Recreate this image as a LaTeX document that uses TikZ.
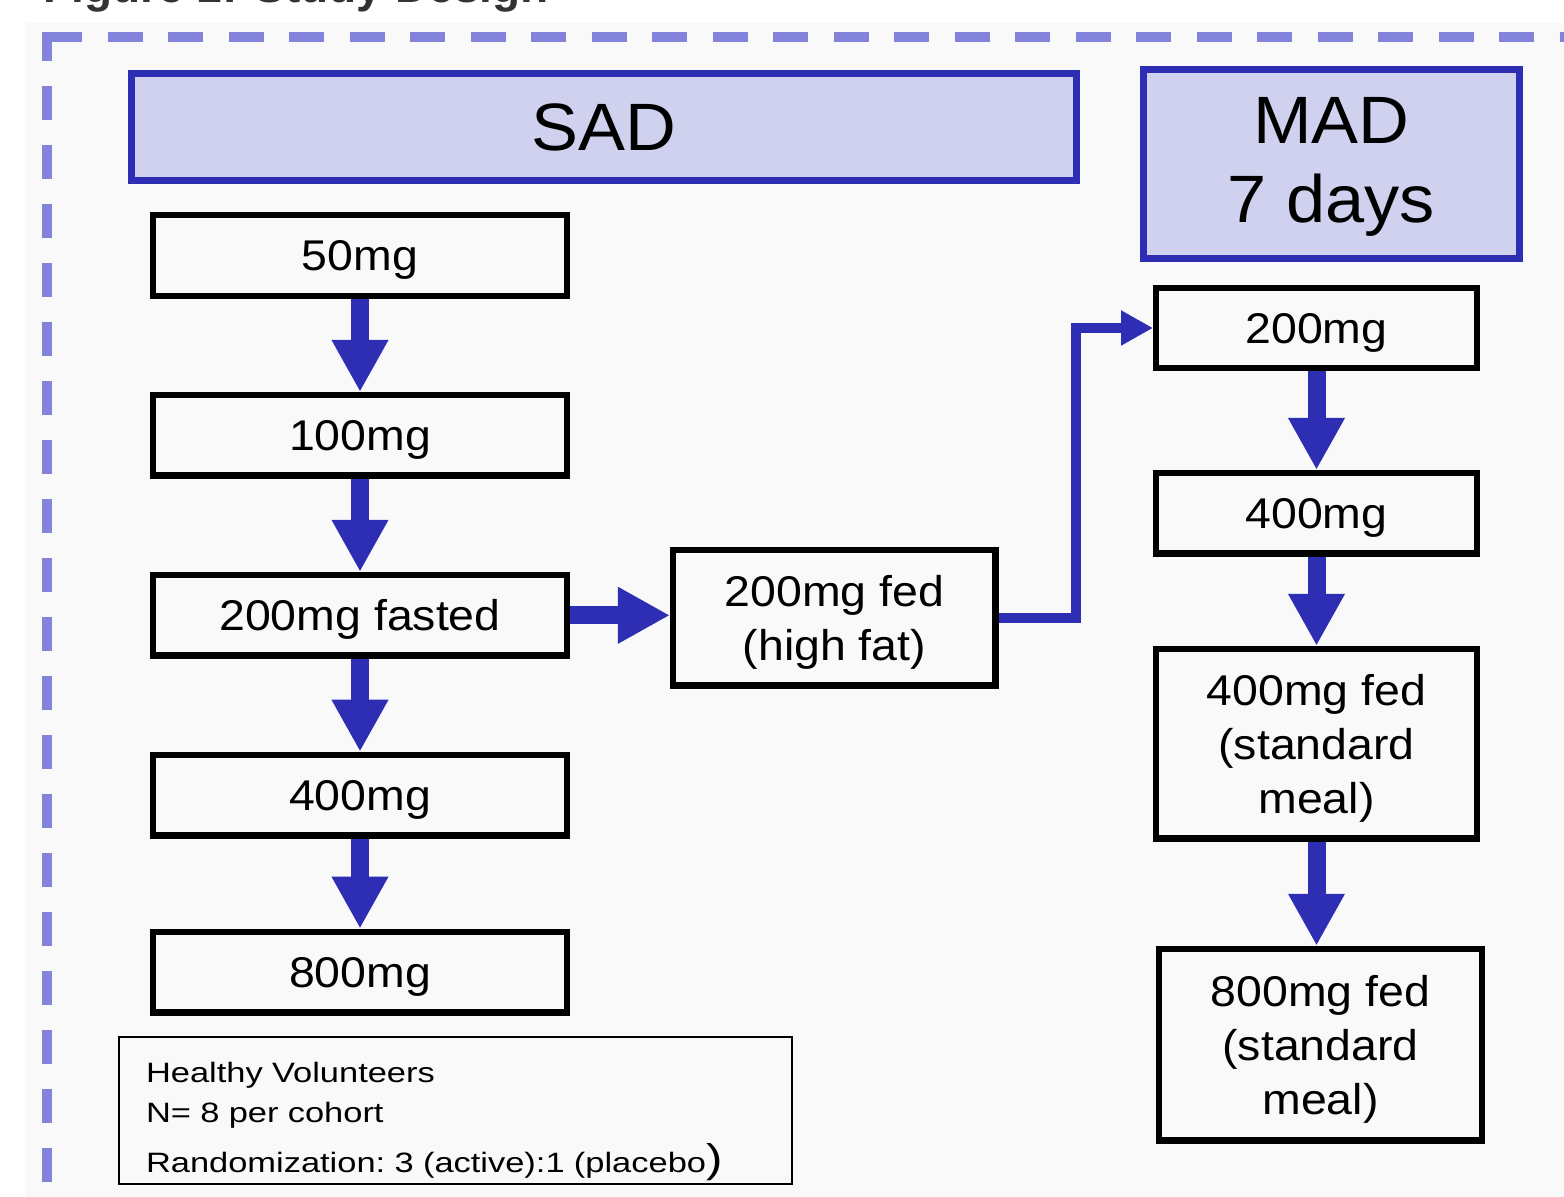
\documentclass[tikz,border=0pt]{standalone}
\usepackage{fontspec}
\setmainfont{Liberation Sans}
\newfontfamily\headfont[FakeStretch=1.05]{Liberation Sans}
\newfontfamily\dosefont[FakeStretch=1.08]{Liberation Sans}
\newfontfamily\notefont[FakeStretch=1.23]{Liberation Sans}
\usepackage{xcolor}
\usetikzlibrary{positioning, arrows.meta}
\definecolor{studyblue}{HTML}{2E2EB4}
\definecolor{headfill}{HTML}{D0D1EF}
\definecolor{framedash}{HTML}{8383DC}
\definecolor{panelgray}{HTML}{F9F9F9}
\definecolor{titlegray}{HTML}{333333}
\tikzset{
    headbox/.style = {rectangle, draw=studyblue, fill=headfill, line width=3.5pt, align=center, text depth=0pt, font=\headfont\fontsize{33.5pt}{39.5pt}\selectfont},
    dosebox/.style = {rectangle, draw=black, line width=3.2pt, inner sep=0pt, minimum width=206.75pt, minimum height=40.25pt, align=center, text depth=0pt, font=\dosefont\fontsize{21.5pt}{27pt}\selectfont},
    madbox/.style = {dosebox, minimum width=160.25pt},
    notebox/.style = {rectangle, draw=black, line width=1pt, text width=309.5pt, inner xsep=13.5pt, inner ysep=6pt, text height=16.5pt, text depth=45pt, align=left, font=\notefont\fontsize{14pt}{20pt}\selectfont\frenchspacing},
    bigarrow/.style = {draw=studyblue, line width=9pt, -{Triangle[width=26.5pt, length=26pt]}},
    linkarrow/.style = {draw=studyblue, line width=5pt, -{Triangle[width=16.5pt, length=16pt]}},
    frameline/.style = {draw=framedash, line width=5pt}
}

\begin{document}
\begin{tikzpicture}[x=0.5pt, y=-0.5pt]
\useasboundingbox (0,0) rectangle (1564,1197);
\fill[white] (0,0) rectangle (1564,1197);
\fill[panelgray] (25,23) rectangle (1564,1197);
\node[anchor=base west, inner sep=0pt, text=titlegray, font=\fontsize{23pt}{23pt}\bfseries] (title) at (43,3) {Figure 1: Study Design};
% dashed frame, runs off the page on the right and at the bottom
\draw[frameline, dash pattern=on 17.5pt off 12.75pt] (47,37) -- (1600,37);
\draw[frameline, dash pattern=on 17pt off 12.5pt, dash phase=2.5pt] (47,32) -- (47,1230);

\node[headbox, minimum width=472.75pt, minimum height=53.5pt] (sad) at (603.75,127) {SAD};
\node[headbox, minimum width=188pt, minimum height=94.5pt, text depth=4pt] (mad) at (1331.5,164) {MAD\\7 days};

% single ascending dose
\node[dosebox] (sad50) at (360,255.5) {50mg};
\node[dosebox, below=46.5pt of sad50] (sad100) {100mg};
\node[dosebox, below=46.5pt of sad100] (sad200) {200mg fasted};
\node[dosebox, below=46.5pt of sad200] (sad400) {400mg};
\node[dosebox, below=45pt of sad400] (sad800) {800mg};
\node[dosebox, minimum width=161.25pt, minimum height=67.75pt, right=50pt of sad200, yshift=-1.25pt] (fed) {200mg fed\\(high fat)};

% multiple ascending dose
\node[madbox] (mad200) at (1316.5,328) {200mg};
\node[madbox, below=49.25pt of mad200] (mad400) {400mg};
\node[madbox, minimum height=94.75pt, below=44.5pt of mad400] (mad400fed) {400mg fed\\(standard\\meal)};
\node[madbox, minimum width=161.25pt, minimum height=95.75pt, below=52pt of mad400fed, xshift=2pt] (mad800fed) {800mg fed\\(standard\\meal)};

\node[notebox, anchor=north west] (cohort) at (118,1036) {Healthy Volunteers\\N= 8 per cohort\\[5pt]Randomization: 3 (active):1 (placebo{\fontsize{20pt}{20pt}\selectfont)}};

\foreach \a/\b in {sad50/sad100, sad100/sad200, sad200/sad400, sad400/sad800, mad200/mad400, mad400/mad400fed}
    \draw[bigarrow] (\a) -- (\b);
\draw[bigarrow] (mad400fed.south) -- (mad400fed.south |- mad800fed.north);
\draw[bigarrow] (sad200.east) -- (sad200.east -| fed.west);
\draw[linkarrow] (fed.east) -- ++(77,0) |- (mad200.west);
\end{tikzpicture}
\end{document}
